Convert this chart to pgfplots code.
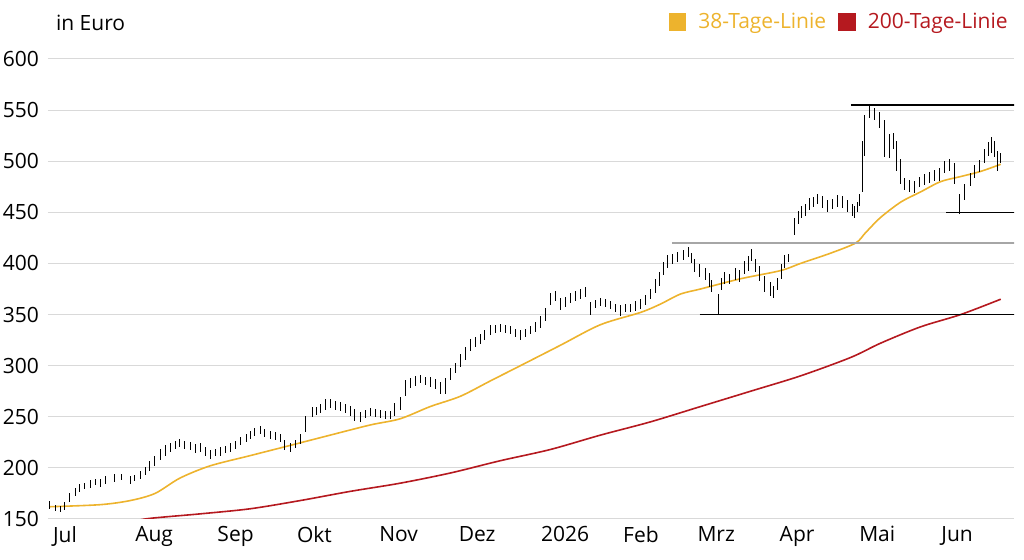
\documentclass[border=0pt]{standalone}
\usepackage{pgfplots}
\pgfplotsset{compat=1.18}
\usepackage{pgfplotstable}
\usepackage{fontspec}
\setmainfont{Open Sans}
\definecolor{ma38}{HTML}{EDB32D}
\definecolor{ma200}{HTML}{B5191F}
\pgfplotstableread{
x y e
0 164 4
1.9 161 3
3.8 160 3
5.5 163 4
7.5 171 4
9.5 176 4
11.3 180 4
13 182 3
15.1 184 4
17 186 3
18.9 185 4
21 188 4
24.5 190 4
27 191 3
30.2 188 4
32 190 3
34 193 4
36 197 4
37.7 202 5
39.5 207 5
41.5 213 5
43.5 217 5
45.3 220 4
47.2 222 4
49 224 4
50.9 222 4
53 221 4
55 219 4
56.6 220 4
58.5 216 4
60.4 213 4
62.3 215 3
64.2 216 4
66 218 3
68 220 4
69.8 222 4
72 226 4
74 229 4
75.5 232 4
77.3 235 4
79.2 237 4
81 234 4
83 232 4
85 231 4
86.8 229 4
88.5 222 5
90.6 220 4
92.5 223 4
94.3 228 5
96.2 243 8
98.8 255 5
100.5 256 4
101.9 258 4
104 262 5
105.6 263 4
107.5 261 4
109.4 260 4
111.3 258 4
113.2 256 5
115 252 6
117 250 5
119 253 4
120.8 255 4
122.6 254 4
124.5 253 4
126.4 252 4
128.3 252 4
130 257 6
132 263 6
134 278 8
135.8 283 5
137.7 285 5
139.6 287 4
141.5 285 4
143.4 284 5
145.3 282 5
147.2 278 6
149 280 8
151 292 6
152.8 298 5
154.7 305 6
156.6 312 6
158.5 320 6
160.4 323 5
162.3 326 5
164 330 5
166 335 5
168 336 4
169.8 337 4
171.7 336 4
173.6 335 4
175.5 332 4
177.4 330 5
179.3 332 4
181.1 335 4
183 338 5
184.9 343 6
186.8 350 6
188.7 365 6
190.6 368 5
192.5 360 6
194.3 362 5
196.2 366 5
198.1 368 5
200 370 5
201.9 372 5
203.8 356 6
205.7 360 4
207.5 362 4
209.4 361 4
211.3 359 4
213.2 356 4
215 354 5
217 356 4
218.9 356 4
220.7 358 5
222.6 360 5
224.5 364 5
226.4 370 5
228.3 378 7
230 385 7
231.5 395 6
233 402 6
234.9 404 5
236.8 406 5
238.7 408 5
240.6 411 5
242 405 5
243.2 398 6
245 393 6
247 390 6
248.7 384 7
249.6 378 6
251.9 360 10
253.2 380 6
254.5 386 6
256.4 385 5
258.3 390 6
260 388 6
262 396 6
263.5 400 7
264.7 408 6
266 398 6
267.7 390 7
269.6 380 8
271.5 375 7
273 372 6
274.5 380 6
275.8 392 7
277 402 6
278.5 405 4
280.9 436 8
282.2 445 6
283.5 450 6
285 452 6
286.5 458 6
288 460 5
289.5 463 5
291.4 460 6
293.3 456 6
295.2 458 5
297 461 6
298.9 460 6
300.8 456 6
302.5 452 6
303.5 450 6
304.5 455 5
305.4 462 6
306.5 495 25
307.3 525 20
309.1 548 6
311 546 6
312.9 540 8
314.8 522 18
316.7 515 12
318 520 8
319.3 505 15
320.6 490 12
322.3 478 6
324 476 6
326.1 475 6
328 480 5
329.9 482 5
331.8 484 5
333.6 486 5
335.5 487 6
337.4 494 6
339.3 496 6
341.2 488 10
343 458 10
345 470 8
347 482 6
348.7 490 6
350.6 495 6
352.5 505 7
354 512 7
355.1 516 8
356.3 512 8
357.4 500 10
358.5 503 5
}\bars
\begin{document}
\begin{tikzpicture}
\useasboundingbox (-24pt,-20.5pt) rectangle (488pt,259.5pt);
\begin{axis}[
  scale only axis, width=483pt, height=230pt,
  xmin=-0.75, xmax=363.5, ymin=150, ymax=600,
  axis line style={draw=none},
  ytick={150,200,...,600},
  ymajorgrids, grid style={gray!30, line width=0.5pt},
  xtick={0,31,62,92,123,153,184,215,243,274,304,335},
  xticklabels={Jul,Aug,Sep,Okt,Nov,Dez,2026,Feb,Mrz,Apr,Mai,Jun},
  xticklabel style={anchor=north west, xshift=-2pt, yshift=0pt},
  yticklabel style={anchor=east, xshift=-1pt},
  tick label style={font=\fontsize{10.5}{12}\selectfont},
  /pgf/number format/assume math mode=true,
  major tick length=0pt,
  clip=true,
  legend style={at={(1,1)}, anchor=south east, draw=none, fill=none,
    font=\fontsize{10.5}{12}\selectfont, yshift=9.5pt, xshift=2pt,
    column sep=4pt},
  legend columns=2,
  legend image code/.code={\fill (0pt,-3.8pt) rectangle (8pt,4.2pt);},
]
\addplot[ma38, line width=0.8pt, smooth] coordinates {
(0,162)(18.9,164)(30.2,168)(39.6,175)(49,190)(60.4,202)(75.5,212)(90.6,222)(105.6,232)(120.8,242)(132,248)(143.4,260)(154.7,270)(166,285)(177.4,300)(192.5,320)(207.5,340)(222.6,352)(230,360)(237.7,370)(245.3,375)(260.4,385)(275.5,393)(283,400)(294.3,410)(303.8,420)(307.5,430)(313.2,445)(320.8,460)(328.3,470)(335.8,480)(343.4,485)(350.9,490)(358.5,497)};
\addlegendentry{\textcolor{ma38}{38-Tage-Linie}}
\addplot[ma200, line width=0.8pt, smooth] coordinates {
(30,145)(35.8,150)(56.6,155)(75.5,160)(94.3,168)(113.2,177)(132,185)(151,195)(169.8,207)(188.7,218)(207.5,232)(226.4,245)(245.3,260)(264.2,275)(283,290)(301.9,308)(313.2,322)(328.3,338)(343.4,350)(358.5,365)};
\addlegendentry{\textcolor{ma200}{200-Tage-Linie}}
\addplot[black, line width=0.8pt, forget plot] coordinates {(302,555)(364,555)};
\addplot[black, line width=0.8pt, forget plot] coordinates {(338,450)(364,450)};
\addplot[black, line width=0.8pt, forget plot] coordinates {(245,350)(364,350)};
\addplot[gray!70, line width=0.8pt, forget plot] coordinates {(234.5,420)(364,420)};
\addplot[draw=none, no markers, forget plot,
  error bars/.cd, y dir=both, y explicit, error mark=none,
  error bar style={line width=0.5pt, black}]
  table[x=x, y=y, y error=e] {\bars};
\end{axis}
\node[anchor=base west, font=\fontsize{10.5}{12}\selectfont] at (0.5pt,244pt) {in Euro};
\end{tikzpicture}
\end{document}
